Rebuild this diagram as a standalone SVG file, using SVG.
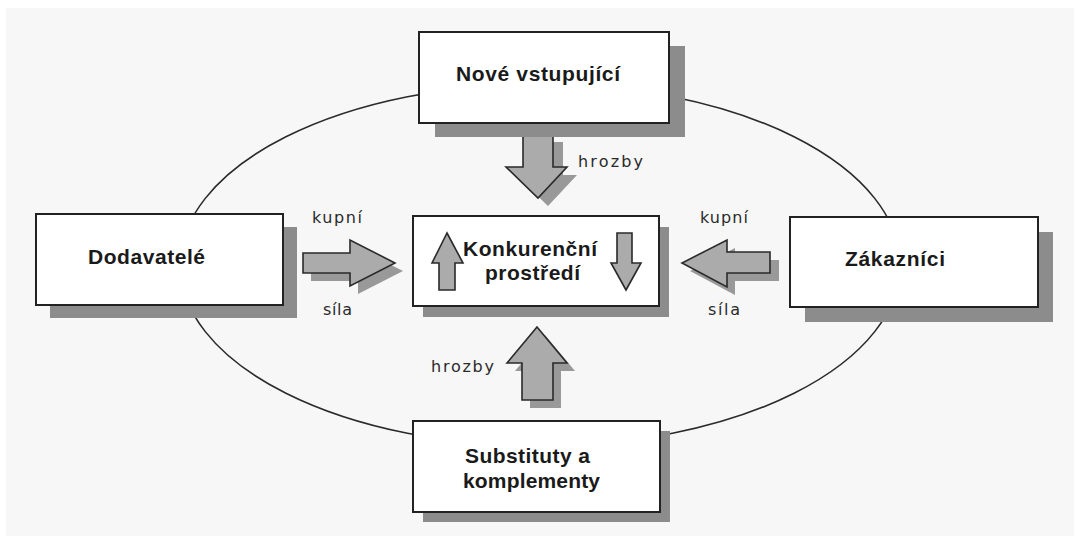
<svg xmlns="http://www.w3.org/2000/svg" width="1080" height="543" viewBox="0 0 1080 543">
  <defs>
    <style>
      .box { fill: #ffffff; stroke: #222222; stroke-width: 2; }
      .shadow { fill: #8c8c8c; }
      .arrow { fill: #ababab; stroke: #2a2a2a; stroke-width: 1.6; stroke-linejoin: miter; }
      .ashadow { fill: #999999; }
      .title { font-family: "Liberation Sans", Arial, sans-serif; font-weight: bold; font-size: 21px; fill: #1a1a1a; }
      .label { font-family: "DejaVu Sans", "Liberation Sans", sans-serif; font-size: 16px; fill: #2a2a2a; }
      .ring { fill: none; stroke: #2a2a2a; stroke-width: 1.6; }
    </style>
  </defs>

  <!-- backdrop -->
  <rect x="0" y="0" width="1080" height="543" fill="#ffffff"/>
  <rect x="6" y="8" width="1068" height="528" fill="#f7f7f7"/>

  <!-- connectors: the ring linking the four forces -->
  <g id="connectors">
    <ellipse class="ring" cx="540" cy="265" rx="360" ry="181"/>
  </g>

  <!-- force arrows -->
  <g id="arrows">
    <!-- down from new entrants -->
    <polygon class="ashadow" points="533,142 563,142 563,175 577,175 548,206 516,175 533,175"/>
    <polygon class="arrow" points="523,134 553,134 553,167 567,167 538,198 506,167 523,167"/>
    <!-- up from substitutes -->
    <polygon class="ashadow" points="545,335 575,371 561,371 561,408 530,408 530,371 515,371"/>
    <polygon class="arrow" points="537,327 567,363 553,363 553,400 522,400 522,363 507,363"/>
    <!-- right from suppliers -->
    <polygon class="ashadow" points="311,261 358,261 358,248 403,271 358,294 358,281 311,281"/>
    <polygon class="arrow" points="303,253 350,253 350,240 395,263 350,286 350,273 303,273"/>
    <!-- left from customers -->
    <polygon class="ashadow" points="779,260 735,260 735,248 690,271 735,295 735,281 779,281"/>
    <polygon class="arrow" points="770,252 727,252 727,240 682,263 727,287 727,273 770,273"/>
  </g>

  <g id="node-nove">
    <rect class="shadow" x="435" y="46" width="250" height="91"/>
    <rect class="box" x="419" y="32" width="250" height="91"/>
    <text class="title" x="456" y="81" textLength="164" lengthAdjust="spacing">Nové vstupující</text>
  </g>

  <g id="node-konkurence">
    <rect class="shadow" x="423" y="227" width="246" height="90"/>
    <rect class="box" x="413" y="216" width="246" height="90"/>
    <polygon class="arrow" points="447,233 463,263 455,263 455,290 439,290 439,263 432,263"/>
    <polygon class="arrow" points="617,233 632,233 632,263 641,263 626,290 611,263 617,263"/>
    <text class="title" x="463" y="256" textLength="134" lengthAdjust="spacing">Konkurenční</text>
    <text class="title" x="485" y="280" textLength="95" lengthAdjust="spacing">prostředí</text>
  </g>

  <g id="node-dodavatele">
    <rect class="shadow" x="50" y="227" width="247" height="91"/>
    <rect class="box" x="36" y="214" width="247" height="91"/>
    <text class="title" x="88" y="264" textLength="117" lengthAdjust="spacing">Dodavatelé</text>
  </g>

  <g id="node-zakaznici">
    <rect class="shadow" x="805" y="232" width="248" height="90"/>
    <rect class="box" x="790" y="217" width="248" height="90"/>
    <text class="title" x="845" y="266" textLength="100" lengthAdjust="spacing">Zákazníci</text>
  </g>

  <g id="node-substituty">
    <rect class="shadow" x="423" y="431" width="247" height="91"/>
    <rect class="box" x="413" y="421" width="247" height="91"/>
    <text class="title" x="465" y="463" textLength="125" lengthAdjust="spacing">Substituty a</text>
    <text class="title" x="463" y="488" textLength="137" lengthAdjust="spacing">komplementy</text>
  </g>

  <!-- arrow labels -->
  <g id="labels">
    <text class="label" x="578" y="167" textLength="65" lengthAdjust="spacing">hrozby</text>
    <text class="label" x="431" y="372" textLength="63" lengthAdjust="spacing">hrozby</text>
    <text class="label" x="312" y="223" textLength="50" lengthAdjust="spacing">kupní</text>
    <text class="label" x="323" y="315" textLength="29" lengthAdjust="spacing">síla</text>
    <text class="label" x="700" y="223" textLength="48" lengthAdjust="spacing">kupní</text>
    <text class="label" x="708" y="315" textLength="32" lengthAdjust="spacing">síla</text>
  </g>
</svg>
